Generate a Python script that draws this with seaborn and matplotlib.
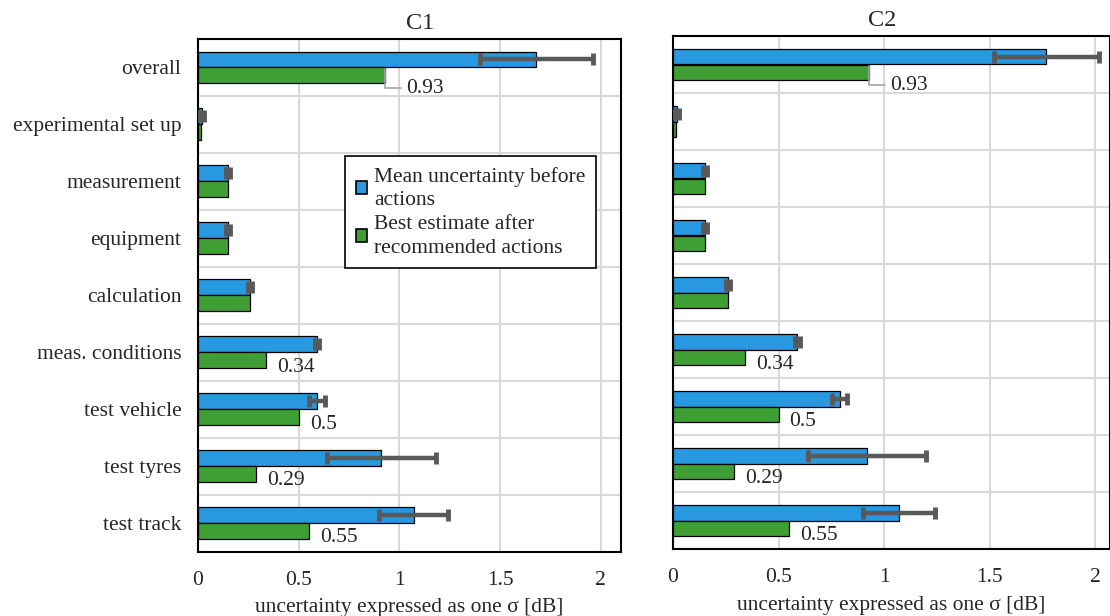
import matplotlib
matplotlib.use("Agg")
import matplotlib.pyplot as plt
from matplotlib.patches import Patch
from matplotlib.ticker import MultipleLocator, FuncFormatter
import pandas as pd
import seaborn as sns

categories = ["overall", "experimental set up", "measurement", "equipment",
              "calculation", "meas. conditions", "test vehicle", "test tyres",
              "test track"]
series = ["Mean uncertainty before\nactions",
          "Best estimate after\nrecommended actions"]

c1_before = [1.68, 0.02, 0.15, 0.15, 0.26, 0.59, 0.59, 0.91, 1.07]
c1_err = [0.28, 0.01, 0.01, 0.01, 0.01, 0.01, 0.04, 0.27, 0.17]
c2_before = [1.77, 0.02, 0.15, 0.15, 0.26, 0.59, 0.79, 0.92, 1.07]
c2_err = [0.25, 0.01, 0.01, 0.01, 0.01, 0.01, 0.035, 0.28, 0.17]
after = [0.93, 0.015, 0.15, 0.15, 0.26, 0.34, 0.5, 0.29, 0.55]
after_labels = ["0.93", "", "", "", "", "0.34", "0.5", "0.29", "0.55"]

BLUE = "#2898e0"
GREEN = "#3f9e34"
ERR = "#595959"
GRID = "#d9d9d9"

sns.set_style("white")
plt.rcParams["font.family"] = ["Liberation Serif", "DejaVu Serif"]
plt.rcParams["font.size"] = 15


def make_frame(before):
    df = pd.DataFrame({
        "category": categories * 2,
        "value": before + after,
        "series": [series[0]] * len(categories) + [series[1]] * len(categories),
    })
    return df


def draw_panel(ax, before, err, title, title_x, xmax, show_ylabels):
    df = make_frame(before)
    sns.barplot(data=df, y="category", x="value", hue="series", orient="h",
                palette=[BLUE, GREEN], saturation=1, width=0.56,
                edgecolor="black", linewidth=0.9, legend=False, ax=ax,
                zorder=3)

    # error bars on the blue bars
    blue_bars = ax.containers[0]
    ys = [p.get_y() + p.get_height() / 2 for p in blue_bars]
    xs = [p.get_width() for p in blue_bars]
    ax.errorbar(xs, ys, xerr=err, fmt="none", ecolor=ERR, elinewidth=3.2,
                capsize=4, capthick=3.5, zorder=4)

    # labels on the green bars
    green_bars = ax.containers[1]
    for i, (p, lab) in enumerate(zip(green_bars, after_labels)):
        if not lab:
            continue
        yc = p.get_y() + p.get_height() / 2
        if i == 0:
            ax.annotate(lab, xy=(p.get_width(), p.get_y() + 0.02),
                        xytext=(15, -14), textcoords="offset points",
                        ha="left", va="center", fontsize=15.5,
                        arrowprops=dict(arrowstyle="-", color="#a6a6a6",
                                        lw=1.2, shrinkA=1, shrinkB=0,
                                        connectionstyle="angle,angleA=0,angleB=90,rad=0"),
                        zorder=5)
        else:
            ax.annotate(lab, xy=(p.get_width(), yc), xytext=(8, -5),
                        textcoords="offset points", ha="left", va="center",
                        fontsize=15.5, zorder=5)

    ax.set_xlim(0, xmax)
    ax.set_ylim(len(categories) - 0.5, -0.5)
    ax.xaxis.set_major_locator(MultipleLocator(0.5))
    ax.xaxis.set_minor_locator(MultipleLocator(0.1))
    ax.xaxis.set_major_formatter(FuncFormatter(lambda v, pos: f"{v:g}"))
    ax.set_yticks([i + 0.5 for i in range(len(categories) - 1)], minor=True)
    ax.grid(True, axis="x", which="major", color=GRID, lw=1.5, zorder=0)
    ax.grid(True, axis="y", which="minor", color=GRID, lw=1.5, zorder=0)
    ax.grid(False, axis="y", which="major")
    ax.grid(False, axis="x", which="minor")
    ax.set_axisbelow(True)

    ax.tick_params(axis="x", which="major", direction="out", length=6,
                   width=1.2, pad=8, labelsize=15.5)
    ax.tick_params(axis="x", which="minor", direction="out", length=4,
                   width=1.2)
    ax.tick_params(axis="y", which="minor", length=0)
    if show_ylabels:
        ax.tick_params(axis="y", which="major", direction="out", length=4,
                       width=1.2, pad=8, labelsize=15.5)
    else:
        ax.tick_params(axis="y", which="major", length=0, labelleft=False)

    for s in ax.spines.values():
        s.set_visible(True)
        s.set_color("black")
        s.set_linewidth(1.5)

    ax.set_ylabel("")
    ax.set_xlabel("uncertainty expressed as one σ [dB]", fontsize=15.5,
                  labelpad=6)
    ax.set_title(title, fontsize=17.5, pad=7, x=title_x)


fig = plt.figure(figsize=(11.1, 6.16), dpi=100)
ax1 = fig.add_axes([198 / 1110, 1 - 551.5 / 616, 423 / 1110, 512.5 / 616])
ax2 = fig.add_axes([673 / 1110, 1 - 549 / 616, 437 / 1110, 513 / 616])

draw_panel(ax1, c1_before, c1_err, "C1", 0.525, 2.1, True)
draw_panel(ax2, c2_before, c2_err, "C2", 0.478, 437 / 211, False)

handles = [Patch(facecolor=BLUE, edgecolor="black", lw=1.2, label=series[0]),
           Patch(facecolor=GREEN, edgecolor="black", lw=1.2, label=series[1])]
leg = ax1.legend(handles=handles, loc="upper left",
                 bbox_to_anchor=(0.347, 0.772), fontsize=15.5, frameon=True,
                 fancybox=False, edgecolor="black", framealpha=1,
                 handlelength=0.55, handleheight=0.55, handletextpad=0.3,
                 borderpad=0.5, labelspacing=0.2, borderaxespad=0)
leg.get_frame().set_linewidth(1.2)
for t in leg.get_texts():
    t.set_linespacing(1.35)

fig.savefig("out.png", dpi=100)
